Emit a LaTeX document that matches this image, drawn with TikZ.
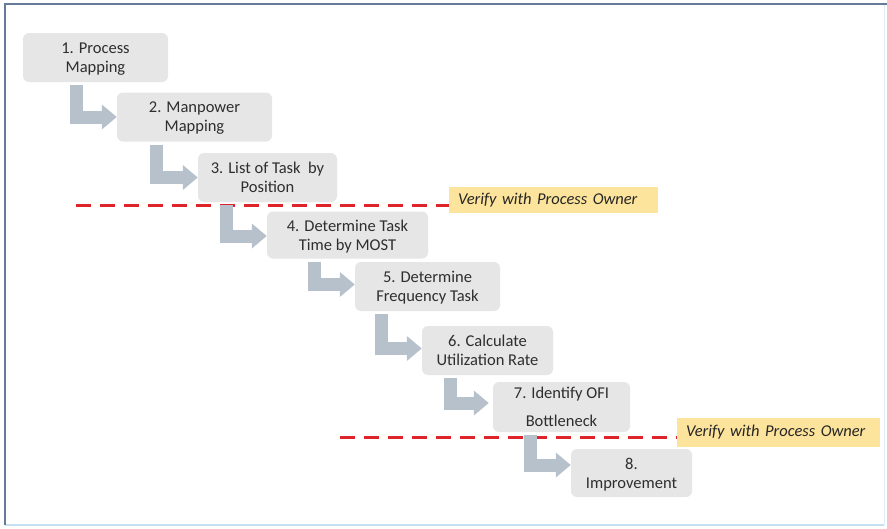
\documentclass[tikz,border=0pt]{standalone}
\usepackage{fontspec}
\setmainfont{Carlito}
\usetikzlibrary{arrows.meta}
\definecolor{boxfill}{HTML}{E6E6E6}
\definecolor{boxtext}{HTML}{2E2E2E}
\definecolor{arrowcol}{HTML}{B7C1CB}
\definecolor{redline}{HTML}{E0232B}
\definecolor{labelfill}{HTML}{FCE49C}
\definecolor{frametop}{HTML}{667B99}
\definecolor{framebot}{HTML}{C3E2F2}
\begin{document}
\begin{tikzpicture}[x=1pt,y=-1pt,
  stepbox/.style={fill=boxfill, rounded corners=6pt, text=boxtext, align=center,
    font=\fontsize{16.5}{19}\selectfont, inner sep=0pt, text depth=0pt},
  flow/.style={draw=arrowcol, line width=13pt, line join=miter,
    -{Triangle[width=24pt,length=15pt]}},
  verifyline/.style={draw=redline, line width=3pt, dash pattern=on 15pt off 9pt},
  verifylabel/.style={fill=labelfill, text=black!85, align=left, anchor=west,
    font=\fontsize{16.5}{19}\selectfont\itshape, inner xsep=9pt, inner ysep=0pt}]
\useasboundingbox (0,0) rectangle (887,528);
\fill[white] (0,0) rectangle (887,528);
% frame
\draw[framebot, line width=1.2pt] (5,525) -- (884,525);
\draw[framebot!60, line width=0.8pt] (884,4) -- (884,525);
\draw[frametop, line width=1.5pt] (5,525) -- (5,4) -- (887,4);

% boxes
\node[stepbox, minimum width=145pt, minimum height=49pt] (b1) at (95.5,57.5) {1. Process\\Mapping};
\node[stepbox, minimum width=155pt, minimum height=49pt] (b2) at (194.5,117) {2. Manpower\\Mapping};
\node[stepbox, minimum width=139pt, minimum height=49pt] (b3) at (267.5,177.5) {3. List of Task\ \ by\\Position};
\node[stepbox, minimum width=161pt, minimum height=47pt] (b4) at (347.5,235) {4. Determine Task\\Time by MOST};
\node[stepbox, minimum width=145pt, minimum height=49pt] (b5) at (427.5,286.5) {5. Determine\\Frequency Task};
\node[stepbox, minimum width=131pt, minimum height=49pt] (b6) at (487.5,350.5) {6. Calculate\\Utilization Rate};
\node[stepbox, minimum width=137pt, minimum height=50pt] (b7) at (561.5,407) {7. Identify OFI\\[9pt]Bottleneck};
\node[stepbox, minimum width=121pt, minimum height=48pt] (b8) at (631.5,473) {8.\\Improvement};

% verify labels
\node[verifylabel, text width=191pt, minimum height=26pt] (l1) at (449,200) {Verify with Process Owner};
\node[verifylabel, text width=185pt, minimum height=29pt] (l2) at (677,432.5) {Verify with Process Owner};

% red dashed lines
\coordinate (r1) at (76,205);
\coordinate (r2) at (340,437);
\draw[verifyline] (r1) -- (r1 -| l1.west);
\draw[verifyline] (r2) -- (r2 -| l2.west);

% arrows
\draw[flow] ([xshift=54pt,yshift=-3pt]b1.south west) |- (b2.west);
\draw[flow] ([xshift=39.5pt,yshift=-3pt]b2.south west) |- (b3.west);
\draw[flow] ([xshift=28.5pt,yshift=-3pt]b3.south west) |- ([yshift=-1pt]b4.west);
\draw[flow] ([xshift=48pt,yshift=-3pt]b4.south west) |- ([yshift=2pt]b5.west);
\draw[flow] ([xshift=27pt,yshift=-3pt]b5.south west) |- ([yshift=2pt]b6.west);
\draw[flow] ([xshift=29pt,yshift=-3pt]b6.south west) |- ([xshift=-4pt,yshift=4pt]b7.west);
\draw[flow] ([xshift=38pt,yshift=-3pt]b7.south west) |- ([yshift=8pt]b8.west);
\end{tikzpicture}
\end{document}
